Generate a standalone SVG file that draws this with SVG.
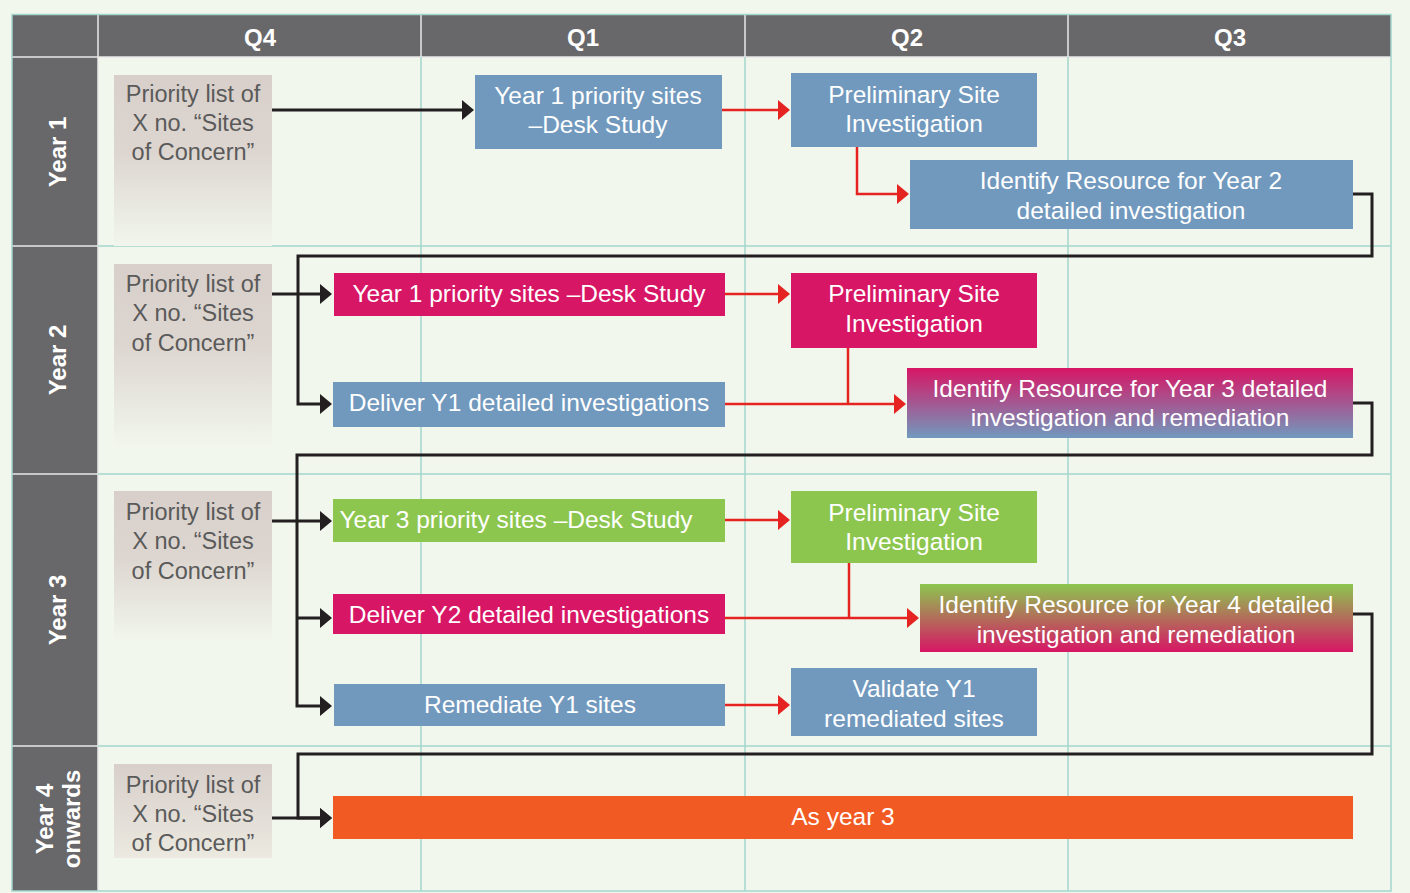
<svg xmlns="http://www.w3.org/2000/svg" width="1410" height="893" viewBox="0 0 1410 893">
<style>
.hdr{fill:#68686a}
.grid{stroke:#a3d6ce;stroke-width:1.5;fill:none}
.wl{stroke:#e8e8e8;stroke-width:1.5}
.ht{font-family:"Liberation Sans",Arial,sans-serif;font-weight:bold;font-size:24px;fill:#fff;text-anchor:middle}
.pt{font-family:"Liberation Sans",Arial,sans-serif;font-size:23.5px;fill:#5a5a5a;text-anchor:middle}
.nt{font-family:"Liberation Sans",Arial,sans-serif;font-size:24.5px;fill:#fff;text-anchor:middle}
.blue{fill:#7199be}
.mag{fill:#d71665}
.grn{fill:#8dc64f}
.org{fill:#f15a22}
.bk{stroke:#231f20;stroke-width:3;fill:none;marker-end:url(#ab)}
.bkn{stroke:#231f20;stroke-width:3;fill:none}
.rd{stroke:#e52421;stroke-width:2.5;fill:none;marker-end:url(#ar)}
.rdn{stroke:#e52421;stroke-width:2.5;fill:none}
</style>
<defs>
<marker id="ab" markerUnits="userSpaceOnUse" markerWidth="12" markerHeight="20" refX="1" refY="10" orient="auto" viewBox="0 0 12 20"><path d="M0,0 L12,10 L0,20 z" fill="#231f20"/></marker>
<marker id="ar" markerUnits="userSpaceOnUse" markerWidth="12" markerHeight="20" refX="1" refY="10" orient="auto" viewBox="0 0 12 20"><path d="M0,0 L12,10 L0,20 z" fill="#e52421"/></marker>
<linearGradient id="pg" x1="0" y1="0" x2="0" y2="1"><stop offset="0" stop-color="#d8cfca"/><stop offset="0.45" stop-color="#ddd6d0"/><stop offset="1" stop-color="#f1f6ec"/></linearGradient>
<linearGradient id="pg4" x1="0" y1="0" x2="0" y2="1"><stop offset="0" stop-color="#d8cfca"/><stop offset="1" stop-color="#ebe9e0"/></linearGradient>
<linearGradient id="mb" x1="0" y1="0" x2="0" y2="1"><stop offset="0" stop-color="#d71665"/><stop offset="1" stop-color="#7199be"/></linearGradient>
<linearGradient id="gm" x1="0" y1="0" x2="0" y2="1"><stop offset="0" stop-color="#8dc64f"/><stop offset="1" stop-color="#d71665"/></linearGradient>
</defs>
<rect x="0" y="0" width="1410" height="893" fill="#f1f7ec"/>
<g id="table">
<rect class="hdr" x="12" y="15" width="1379" height="42"/>
<rect class="hdr" x="12" y="57" width="86" height="834"/>
<line class="wl" x1="98" y1="15" x2="98" y2="891"/>
<line class="wl" x1="421" y1="15" x2="421" y2="57"/>
<line class="wl" x1="745" y1="15" x2="745" y2="57"/>
<line class="wl" x1="1068" y1="15" x2="1068" y2="57"/>
<line class="wl" x1="12" y1="57" x2="1391" y2="57"/>
<line class="wl" x1="12" y1="246" x2="98" y2="246"/>
<line class="wl" x1="12" y1="474" x2="98" y2="474"/>
<line class="wl" x1="12" y1="746" x2="98" y2="746"/>
<line class="grid" x1="421" y1="57" x2="421" y2="891"/>
<line class="grid" x1="745" y1="57" x2="745" y2="891"/>
<line class="grid" x1="1068" y1="57" x2="1068" y2="891"/>
<line class="grid" x1="98" y1="246" x2="1391" y2="246"/>
<line class="grid" x1="98" y1="474" x2="1391" y2="474"/>
<line class="grid" x1="98" y1="746" x2="1391" y2="746"/>
<rect class="grid" x="12" y="14.5" width="1379" height="876.5"/>
<text class="ht" x="260" y="46">Q4</text>
<text class="ht" x="583" y="46">Q1</text>
<text class="ht" x="907" y="46">Q2</text>
<text class="ht" x="1230" y="46">Q3</text>
<text class="ht" transform="translate(66,152) rotate(-90)">Year 1</text>
<text class="ht" transform="translate(66,360) rotate(-90)">Year 2</text>
<text class="ht" transform="translate(66,610) rotate(-90)">Year 3</text>
<text class="ht" transform="translate(53,819) rotate(-90)">Year 4</text>
<text class="ht" transform="translate(80,819) rotate(-90)">onwards</text>
</g>
<g id="p1"><rect x="114" y="75" width="158" height="171" fill="url(#pg)"/><text class="pt"><tspan x="193" y="102">Priority list of</tspan><tspan x="193" y="131">X no. “Sites</tspan><tspan x="193" y="160">of Concern”</tspan></text></g>
<g id="p2"><rect x="114" y="264" width="158" height="181" fill="url(#pg)"/><text class="pt"><tspan x="193" y="292">Priority list of</tspan><tspan x="193" y="321">X no. “Sites</tspan><tspan x="193" y="351">of Concern”</tspan></text></g>
<g id="p3"><rect x="114" y="491" width="158" height="150" fill="url(#pg)"/><text class="pt"><tspan x="193" y="520">Priority list of</tspan><tspan x="193" y="549">X no. “Sites</tspan><tspan x="193" y="579">of Concern”</tspan></text></g>
<g id="p4"><rect x="114" y="764" width="158" height="94" fill="url(#pg4)"/><text class="pt"><tspan x="193" y="793">Priority list of</tspan><tspan x="193" y="822">X no. “Sites</tspan><tspan x="193" y="851">of Concern”</tspan></text></g>
<g id="connectors">
<path class="bk" d="M272,110 H463"/>
<path class="rd" d="M722,110 H779"/>
<path class="rd" d="M857,147 V194 H898"/>
<path class="bk" d="M1353,194 H1372 V256 H298 V404 H321"/>
<path class="bk" d="M272,294 H321"/>
<path class="rd" d="M725,294 H779"/>
<path class="rdn" d="M848,348 V404"/>
<path class="rd" d="M725,404 H895"/>
<path class="bk" d="M1353,403 H1372 V455 H297 V706 H321"/>
<path class="bk" d="M272,521 H321"/>
<path class="bk" d="M297,618 H321"/>
<path class="rd" d="M725,520 H779"/>
<path class="rdn" d="M849,563 V618"/>
<path class="rd" d="M725,618 H908"/>
<path class="rd" d="M725,705 H779"/>
<path class="bk" d="M1353,614 H1372 V754 H298 V818 H321"/>
<path class="bk" d="M272,818 H321"/>
</g>
<g id="n1"><rect class="blue" x="475" y="75" width="247" height="74"/><text class="nt"><tspan x="598" y="104">Year 1 priority sites</tspan><tspan x="598" y="133">–Desk Study</tspan></text></g>
<g id="n2"><rect class="blue" x="791" y="73" width="246" height="74"/><text class="nt"><tspan x="914" y="103">Preliminary Site</tspan><tspan x="914" y="132">Investigation</tspan></text></g>
<g id="n3"><rect class="blue" x="910" y="160" width="443" height="69"/><text class="nt"><tspan x="1131" y="189">Identify Resource for Year 2</tspan><tspan x="1131" y="219">detailed investigation</tspan></text></g>
<g id="n4"><rect class="mag" x="334" y="273" width="391" height="43"/><text class="nt" x="529" y="302">Year 1 priority sites –Desk Study</text></g>
<g id="n5"><rect class="mag" x="791" y="273" width="246" height="75"/><text class="nt"><tspan x="914" y="302">Preliminary Site</tspan><tspan x="914" y="332">Investigation</tspan></text></g>
<g id="n6"><rect class="blue" x="333" y="382" width="392" height="45"/><text class="nt" x="529" y="411">Deliver Y1 detailed investigations</text></g>
<g id="n7"><rect x="907" y="368" width="446" height="70" fill="url(#mb)"/><text class="nt"><tspan x="1130" y="397">Identify Resource for Year 3 detailed</tspan><tspan x="1130" y="426">investigation and remediation</tspan></text></g>
<g id="n8"><rect class="grn" x="333" y="499" width="392" height="43"/><text class="nt" x="516" y="528">Year 3 priority sites –Desk Study</text></g>
<g id="n9"><rect class="grn" x="791" y="491" width="246" height="72"/><text class="nt"><tspan x="914" y="521">Preliminary Site</tspan><tspan x="914" y="550">Investigation</tspan></text></g>
<g id="n10"><rect class="mag" x="333" y="594" width="392" height="40"/><text class="nt" x="529" y="623">Deliver Y2 detailed investigations</text></g>
<g id="n11"><rect x="920" y="584" width="433" height="68" fill="url(#gm)"/><text class="nt"><tspan x="1136" y="613">Identify Resource for Year 4 detailed</tspan><tspan x="1136" y="643">investigation and remediation</tspan></text></g>
<g id="n12"><rect class="blue" x="334" y="684" width="391" height="42"/><text class="nt" x="530" y="713">Remediate Y1 sites</text></g>
<g id="n13"><rect class="blue" x="791" y="668" width="246" height="68"/><text class="nt"><tspan x="914" y="697">Validate Y1</tspan><tspan x="914" y="727">remediated sites</tspan></text></g>
<g id="n14"><rect class="org" x="333" y="796" width="1020" height="43"/><text class="nt" x="843" y="825">As year 3</text></g>
</svg>
